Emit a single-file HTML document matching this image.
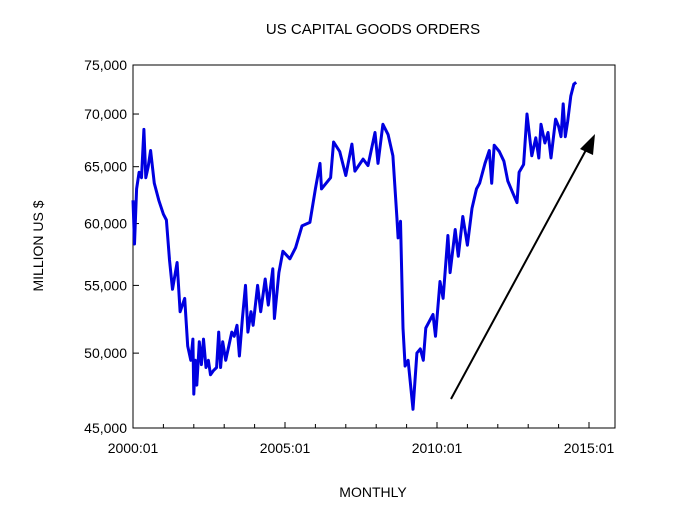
<!DOCTYPE html>
<html><head><meta charset="utf-8"><style>
body{margin:0;background:#fff}
svg text{font-family:"Liberation Sans",sans-serif;fill:#000}
</style></head><body>
<svg id="chart" width="676" height="518">
<text x="373" y="34" font-size="15" text-anchor="middle">US CAPITAL GOODS ORDERS</text>
<text x="373" y="497" font-size="14" text-anchor="middle">MONTHLY</text>
<text transform="translate(43,246) rotate(-90)" font-size="14" text-anchor="middle">MILLION US $</text>
<rect x="133" y="65" width="482" height="363" fill="none" stroke="#000" stroke-width="1"/>
<g id="axes"></g>
<path id="line" fill="none" stroke="#0000e0" stroke-width="3" stroke-linejoin="round"/>
<line x1="451" y1="399" x2="586" y2="150" stroke="#000" stroke-width="2"/>
<polygon points="595,134 580,149 593,155" fill="#000"/>
</svg>
<script>
const years=[0,0.05,0.12,0.2,0.28,0.36,0.42,0.5,0.58,0.7,0.85,1.0,1.1,1.2,1.3,1.45,1.55,1.7,1.8,1.9,1.97,2.0,2.05,2.1,2.18,2.25,2.32,2.4,2.48,2.55,2.65,2.75,2.82,2.88,2.95,3.05,3.15,3.25,3.33,3.42,3.5,3.6,3.7,3.78,3.88,3.95,4.1,4.2,4.35,4.45,4.6,4.65,4.8,4.93,5.16,5.35,5.56,5.82,6.0,6.15,6.2,6.5,6.6,6.8,7.0,7.2,7.3,7.57,7.73,7.96,8.06,8.22,8.39,8.55,8.68,8.72,8.8,8.88,8.95,9.05,9.21,9.34,9.45,9.55,9.63,9.87,9.95,10.1,10.2,10.36,10.43,10.6,10.7,10.85,11.0,11.15,11.3,11.4,11.58,11.72,11.8,11.88,12.05,12.2,12.33,12.5,12.63,12.7,12.85,12.96,13.12,13.25,13.35,13.42,13.55,13.65,13.75,13.9,14.0,14.08,14.15,14.22,14.3,14.4,14.5,14.58];
const values=[62000,58300,63000,64500,64000,68500,64000,65000,66500,63500,62000,60800,60300,57000,54700,56800,53000,54000,50500,49500,51000,47200,49500,47800,50800,49200,51000,49000,49500,48500,48800,49000,51500,49000,50800,49500,50500,51500,51200,52000,49800,52500,55000,51500,53000,52000,55000,53000,55500,53500,56300,52500,56000,57700,57100,58000,59800,60100,63000,65300,63000,64000,67300,66400,64200,67100,64600,65700,65100,68200,65300,69000,68000,66000,60500,58800,60200,51800,49100,49500,46200,50000,50300,49500,51800,52800,51200,55300,54000,59000,56000,59500,57300,60600,58200,61300,63000,63500,65300,66500,63500,67000,66400,65500,63700,62600,61800,64500,65200,70000,66000,67700,65800,69000,67200,68200,65800,69500,68800,67800,71000,67800,69300,71800,73000,73200];
const yTicks=[45000,50000,55000,60000,65000,70000,75000];
const xTickLabels=["2000:01","2005:01","2010:01","2015:01"];
const xTickYears=[0,5,10,15];
const L=133,R=615,T=65,B=428;
const lmin=Math.log(45000),lmax=Math.log(75000);
function xs(t){return L+t*30.4;}
function ys(v){return B-(Math.log(v)-lmin)/(lmax-lmin)*(B-T);}
const NS="http://www.w3.org/2000/svg";
const ax=document.getElementById('axes');
function mk(tag,attrs){const e=document.createElementNS(NS,tag);for(const k in attrs)e.setAttribute(k,attrs[k]);ax.appendChild(e);return e;}
yTicks.forEach(v=>{
 const y=ys(v);
 const t=mk('line',{x1:L,x2:L+6,y1:y,y2:y,stroke:'#000'});
 
 
 const lb=mk('text',{x:L-6,y:y+5,'font-size':14,'text-anchor':'end'});
 lb.textContent=v.toLocaleString('en-US');
 
 
});
for(let yr=0;yr<=15;yr++){
 const x=xs(yr);
 const t=mk('line',{x1:x,x2:x,y1:B,y2:B-(yr%5===0?6:4),stroke:'#000'});
 
 
}
xTickYears.forEach((yr,i)=>{
 const lb=mk('text',{x:xs(yr),y:B+25,'font-size':14,'text-anchor':'middle'});
 lb.textContent=xTickLabels[i];
 
 
});
document.getElementById('line').setAttribute('d',years.map((t,i)=>(i?'L':'M')+xs(t).toFixed(1)+','+ys(values[i]).toFixed(1)).join(''));
</script>
</body></html>
